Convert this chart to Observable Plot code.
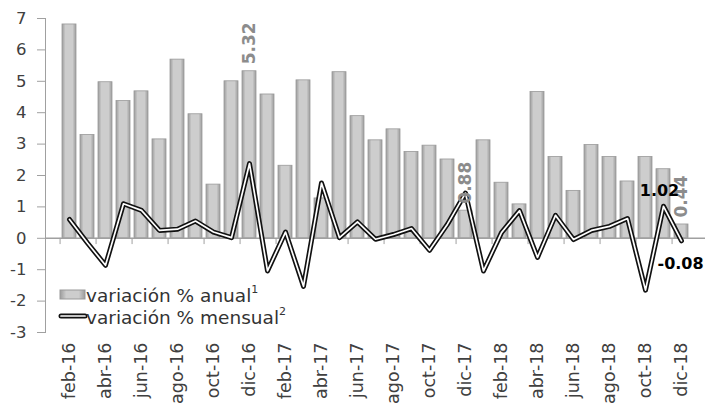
<!DOCTYPE html>
<html><head><meta charset="utf-8">
<script src="https://cdn.jsdelivr.net/npm/d3@7"></script>
<script src="https://cdn.jsdelivr.net/npm/@observablehq/plot@0.6"></script>
<style>body{margin:0;background:#fff;} svg{font-family:"DejaVu Sans",sans-serif;}</style>
</head><body><div id="chart"></div>
<script>
const months = ["feb-16","mar-16","abr-16","may-16","jun-16","jul-16","ago-16","sep-16","oct-16","nov-16","dic-16",
"ene-17","feb-17","mar-17","abr-17","may-17","jun-17","jul-17","ago-17","sep-17","oct-17","nov-17","dic-17",
"ene-18","feb-18","mar-18","abr-18","may-18","jun-18","jul-18","ago-18","sep-18","oct-18","nov-18","dic-18"];
const annual = [6.81,3.29,4.97,4.37,4.68,3.15,5.69,3.95,1.71,5.0,5.32,
4.58,2.31,5.03,1.27,5.29,3.89,3.12,3.47,2.75,2.95,2.51,0.88,
3.12,1.77,1.08,4.66,2.59,1.51,2.97,2.59,1.81,2.59,2.20,0.44];
const monthly = [0.6,-0.15,-0.86,1.10,0.89,0.25,0.29,0.55,0.2,0.02,2.38,
-1.04,0.2,-1.53,1.76,0.02,0.52,-0.03,0.12,0.31,-0.38,0.45,1.44,
-1.04,0.18,0.88,-0.61,0.73,-0.04,0.25,0.38,0.63,-1.65,1.02,-0.08];
const barLabelMonths = ["dic-16","dic-17","dic-18"];
const lineLabelAbove = ["nov-18"];
const lineLabelBelow = ["dic-18"];
const labeledTicks = months.filter((d,i)=>i%2===0);
const yTicks = [-3,-2,-1,0,1,2,3,4,5,6,7];
const legendLabels = ["variación % anual","variación % mensual"];
const legendSups = ["1","2"];

const data = months.map((m,i)=>({month:m, annual:annual[i], monthly:monthly[i]}));
const W=714,H=408,mL=45,mR=9,mT=18,mB=76;
const step=(W-mL-mR)/months.length;
const axisGray="#a0a0a0";

const plot = Plot.plot({
  width:W, height:H, marginLeft:mL, marginRight:mR, marginTop:mT, marginBottom:mB,
  style:{fontFamily:'"DejaVu Sans", sans-serif', background:"#fff", color:"#404040"},
  x:{type:"band", domain:months, paddingInner:0.25, paddingOuter:0.125, label:null},
  y:{domain:[-3,7], label:null},
  marks:[
    Plot.barY(data,{x:"month", y:"annual", fill:"url(#barGrad)", stroke:"#999", strokeWidth:0.8}),
    Plot.ruleY([0],{stroke:axisGray, strokeWidth:1.5}),
    Plot.ruleX(labeledTicks,{x:d=>d, dx:-step/2, y1:0, y2:-0.2, stroke:axisGray}),
    Plot.frame({anchor:"left", stroke:axisGray}),
    Plot.axisY({ticks:yTicks, tickFormat:d=>String(d), tickSize:8, tickPadding:11, fontSize:16.5, stroke:axisGray, label:null}),
    Plot.axisX({ticks:labeledTicks, tickSize:0, tickPadding:10, tickRotate:-90, fontSize:17.5, label:null}),
    Plot.line(data,{x:"month", y:"monthly", stroke:"#111", strokeWidth:5}),
    Plot.line(data,{x:"month", y:"monthly", stroke:"#fff", strokeWidth:1.7}),
    Plot.text(data.filter(d=>barLabelMonths.includes(d.month)),{x:"month", y:"annual", text:d=>d.annual.toFixed(2), rotate:-90, textAnchor:"start", dy:-7, fill:"#8c8c8c", fontWeight:"bold", fontSize:17}),
    Plot.text(data.filter(d=>lineLabelAbove.includes(d.month)),{x:"month", y:"monthly", text:d=>d.monthly.toFixed(2), dx:-4, dy:-15, fill:"#000", fontWeight:"bold", fontSize:16}),
    Plot.text(data.filter(d=>lineLabelBelow.includes(d.month)),{x:"month", y:"monthly", text:d=>d.monthly.toFixed(2), textAnchor:"start", dx:-24, dy:23, fill:"#000", fontWeight:"bold", fontSize:16})
  ]
});
document.getElementById("chart").appendChild(plot);

const svg = d3.select(plot);
const defs = svg.insert("defs",":first-child");
const grad = defs.append("linearGradient").attr("id","barGrad").attr("x1",0).attr("x2",1).attr("y1",0).attr("y2",0);
grad.append("stop").attr("offset","0%").attr("stop-color","#9c9c9c");
grad.append("stop").attr("offset","25%").attr("stop-color","#cdcdcd");
grad.append("stop").attr("offset","75%").attr("stop-color","#cdcdcd");
grad.append("stop").attr("offset","100%").attr("stop-color","#9c9c9c");

const lg = svg.append("g").attr("font-size",18.5).attr("fill","#333").attr("text-anchor","start");
lg.append("rect").attr("x",60).attr("y",290).attr("width",25).attr("height",9).attr("fill","url(#barGrad)").attr("stroke","#999");
const t1 = lg.append("text").attr("x",86).attr("y",302);
t1.append("tspan").text(legendLabels[0]);
t1.append("tspan").attr("font-size",11).attr("dy",-9).text(legendSups[0]);
lg.append("line").attr("x1",61).attr("x2",85).attr("y1",316).attr("y2",316).attr("stroke","#111").attr("stroke-width",5).attr("stroke-linecap","round");
lg.append("line").attr("x1",61).attr("x2",85).attr("y1",316).attr("y2",316).attr("stroke","#fff").attr("stroke-width",1.7).attr("stroke-linecap","round");
const t2 = lg.append("text").attr("x",86).attr("y",324);
t2.append("tspan").text(legendLabels[1]);
t2.append("tspan").attr("font-size",11).attr("dy",-9).text(legendSups[1]);
</script>
</body></html>
